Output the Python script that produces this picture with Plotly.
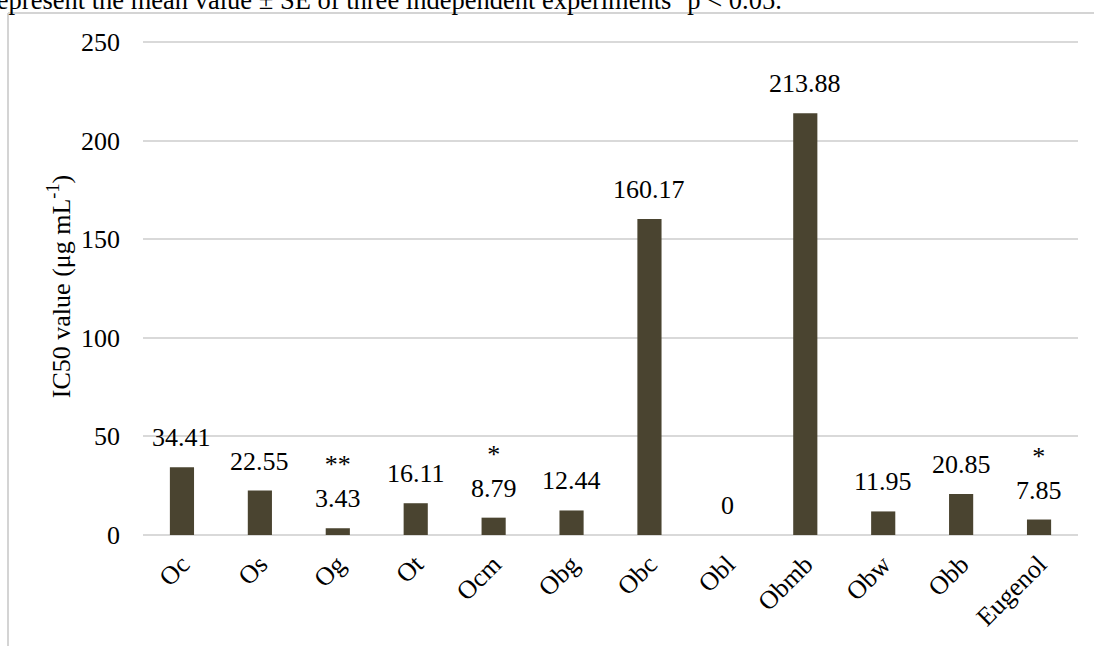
import plotly.graph_objects as go

categories = ["Oc", "Os", "Og", "Ot", "Ocm", "Obg", "Obc", "Obl", "Obmb", "Obw", "Obb", "Eugenol"]
ic50 = [34.41, 22.55, 3.43, 16.11, 8.79, 12.44, 160.17, 0, 213.88, 11.95, 20.85, 7.85]
signif = ["", "", "**", "", "*", "", "", "", "", "", "", "*"]
value_text = ["34.41", "22.55", "3.43", "16.11", "8.79", "12.44", "160.17", "0", "213.88", "11.95", "20.85", "7.85"]
y_ticks = [0, 50, 100, 150, 200, 250]

FONT = "Liberation Serif"
BAR = "#4a4430"

# plot area in pixels
L, R, T, B = 143, 16, 38, 111
W, H = 1094, 646
pw, ph = W - L - R, H - T - B


def px_x(x):
    return (x - L) / pw


def px_y(y):
    return (H - B - y) / ph


fig = go.Figure()
fig.add_trace(go.Bar(
    x=categories, y=ic50,
    marker=dict(color=BAR, line=dict(width=0)),
    width=0.31,
    hoverinfo="x+y",
))

for c, v, s, t in zip(categories, ic50, signif, value_text):
    label = (s + "<br>" + t) if s else t
    fig.add_annotation(x=c, y=v, text=label, showarrow=False,
                       yanchor="bottom", yshift=13,
                       font=dict(family=FONT, size=26, color="#000"))

# caption fragment clipped at the top of the crop
fig.add_annotation(xref="paper", yref="paper", x=px_x(784), y=px_y(-2),
                   xanchor="right", yanchor="middle", showarrow=False,
                   text="represent the mean value ± SE of three independent experiments <sup>*</sup>p < 0.05.",
                   font=dict(family=FONT, size=26.5, color="#000"))

# thin frame lines of the cropped figure box
fig.add_shape(type="line", xref="paper", yref="paper",
              x0=px_x(8), x1=px_x(8), y0=px_y(13), y1=px_y(650),
              line=dict(color="#d4d4d4", width=2))
fig.add_shape(type="line", xref="paper", yref="paper",
              x0=px_x(8), x1=px_x(1100), y0=px_y(13), y1=px_y(13),
              line=dict(color="#d4d4d4", width=2))

fig.update_layout(
    width=W, height=H,
    margin=dict(l=L, r=R, t=T, b=B, autoexpand=False),
    paper_bgcolor="white", plot_bgcolor="white",
    showlegend=False,
    font=dict(family=FONT, size=26, color="#000"),
    xaxis=dict(
        tickangle=-45, tickfont=dict(family=FONT, size=26), showgrid=False,
        showline=False, ticks="", ticklabelstandoff=8,
    ),
    yaxis=dict(
        range=[0, 252], tickvals=y_ticks, showgrid=True,
        gridcolor="#d9d9d9", gridwidth=2, zeroline=True,
        zerolinecolor="#d9d9d9", zerolinewidth=2, showline=False,
        ticks="", ticklabelstandoff=22, tickfont=dict(family=FONT, size=26),
        title=dict(text="IC50 value (μg mL<sup>-1</sup>)",
                   font=dict(family=FONT, size=26), standoff=2),
    ),
)

fig.write_html("out.html", config={"displayModeBar": False},
               post_script="document.body.style.margin='0';")
